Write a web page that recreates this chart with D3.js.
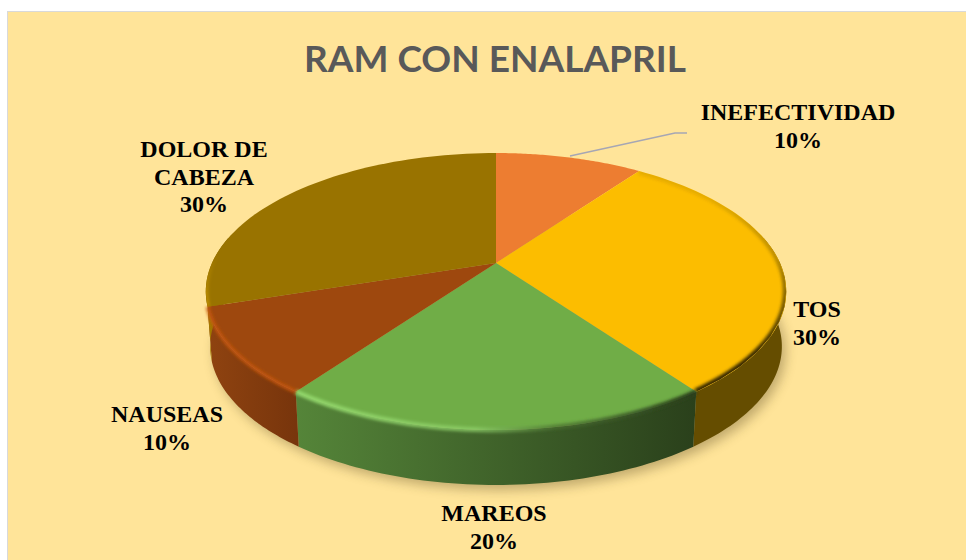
<!DOCTYPE html>
<html><head><meta charset="utf-8">
<script src="https://cdn.jsdelivr.net/npm/d3@7"></script>
<style>html,body{margin:0;padding:0;background:#fff}svg{display:block}</style></head>
<body><svg id="c" width="966" height="560"></svg>
<script>
const categories = ["INEFECTIVIDAD","TOS","MAREOS","NAUSEAS","DOLOR DE CABEZA"];
const values = [10,30,20,10,30];
const topColors = ["#ed7d31","#fcbd00","#70ad47","#9e480e","#997300"];
const sideFrom = ["#a0521f","#654d00","#558539","#8f4310","#a87e00"];
const sideTo = ["#a0521f","#654d00","#2a401b","#78350c","#8a6800"];
const labelLines = [["INEFECTIVIDAD","10%"],["TOS","30%"],["MAREOS","20%"],["NAUSEAS","10%"],["DOLOR DE","CABEZA","30%"]];
const labelAnchors = [[798,120],[817,317],[494,521],[167,422],[204,157]];
// rim bevel stops: [x1,y1,x2,y2,[[offset,colour,opacity],...],width,clipToFace]
const bevelSpecs = [
  null,
  [700,200,740,360,[[0,"#4a3800",.12],[.45,"#4a3800",.35],[1,"#3a2c00",1]],7,true],
  [300,0,690,0,[[0,"#93d86c",.95],[.45,"#8fd06a",.75],[.65,"#4a7030",.7],[1,"#2a401b",1]],5,false],
  [0,300,0,330,[[0,"#c9590f",.8],[1,"#c4560f",.9]],4,false],
  [0,255,0,300,[[0,"#c09000",0],[1,"#c09000",.9]],5,true]
];

const svg = d3.select("#c");
const defs = svg.append("defs");
const f = defs.append("filter").attr("id","blur").attr("x","-20%").attr("y","-20%").attr("width","140%").attr("height","140%");
f.append("feGaussianBlur").attr("stdDeviation",6);
const f2 = defs.append("filter").attr("id","bev").attr("filterUnits","userSpaceOnUse").attr("x",0).attr("y",0).attr("width",966).attr("height",560);
f2.append("feGaussianBlur").attr("stdDeviation",1.8);

// background
svg.append("rect").attr("x",7.5).attr("y",11.5).attr("width",970).attr("height",560)
  .attr("fill","#ffe499").attr("stroke","#d9d9d9");

// perspective projection of the unit circle
const CX=496, CY=263, A=284, B=132.6, K=0.2058, DEPTH=55, SHRINK=0.985;
const proj = a=>{const u=Math.sin(a),v=Math.cos(a),w=1+K*v;return [CX+A*u/w,CY-B*v/w];};
const low = a=>{const p=proj(a);return [CX+(p[0]-CX)*SHRINK,p[1]+DEPTH];};
const line = d3.line();
const samples=(a0,a1)=>d3.range(0,61).map(i=>a0+(a1-a0)*i/60);

const arcs = d3.pie().sort(null).value(d=>d)(values);
const faceOf = d=>line([[CX,CY],...samples(d.startAngle,d.endAngle).map(proj)])+"Z";
const fullRim = samples(0,2*Math.PI);

// shadow under pie
svg.append("path").attr("d",line(fullRim.map(a=>{const p=low(a);return [p[0]+4,p[1]+5];}))+"Z")
  .attr("fill","#5a4a20").attr("opacity",.38).attr("filter","url(#blur)");

// sides
const H0=Math.PI/2-0.2, H1=3*Math.PI/2+0.2;
arcs.forEach((d,i)=>{
  const s=Math.max(d.startAngle,H0), e=Math.min(d.endAngle,H1);
  if(e<=s) return;
  const pts=samples(s,e);
  const xs=pts.map(a=>proj(a)[0]);
  const gid="side"+i;
  const g=defs.append("linearGradient").attr("id",gid).attr("gradientUnits","userSpaceOnUse")
    .attr("x1",d3.min(xs)).attr("x2",d3.max(xs)).attr("y1",0).attr("y2",0);
  g.append("stop").attr("offset",0).attr("stop-color",sideFrom[i]);
  g.append("stop").attr("offset",1).attr("stop-color",sideTo[i]);
  svg.append("path").attr("d",line([...pts.map(proj),...pts.slice().reverse().map(low)])+"Z").attr("fill",`url(#${gid})`);
});

// clip regions
defs.append("clipPath").attr("id","faceClip").append("path").attr("d",line(fullRim.map(proj))+"Z");

// top faces
svg.selectAll("path.face").data(arcs).join("path").attr("class","face")
  .attr("d",faceOf).attr("fill",(d,i)=>topColors[i]);

// rim bevel
const rimClipped=svg.append("g").attr("clip-path","url(#faceClip)");
const rimFree=svg.append("g");
arcs.forEach((d,i)=>{
  const sp=bevelSpecs[i];
  if(!sp) return;
  const g=defs.append("linearGradient").attr("id","bev"+i).attr("gradientUnits","userSpaceOnUse")
    .attr("x1",sp[0]).attr("y1",sp[1]).attr("x2",sp[2]).attr("y2",sp[3]);
  sp[4].forEach(s=>g.append("stop").attr("offset",s[0]).attr("stop-color",s[1]).attr("stop-opacity",s[2]));
  (sp[6]?rimClipped:rimFree).append("path").attr("d",line(samples(d.startAngle,d.endAngle).map(proj)))
    .attr("fill","none").attr("stroke",`url(#bev${i})`).attr("stroke-width",sp[5]).attr("filter","url(#bev)");
});

// leader line
svg.append("path").attr("d",line([[570,156],[675,133],[687,133]])).attr("fill","none").attr("stroke","#a6a6b4").attr("stroke-width",1.3);

// title
svg.append("text").attr("x",495).attr("y",72).attr("text-anchor","middle")
  .attr("font-family","Lato,sans-serif").attr("font-weight",700).attr("font-size",37).attr("fill","#595959")
  .text("RAM CON ENALAPRIL");

// labels
labelLines.forEach((ls,i)=>{
  const t=svg.append("text").attr("text-anchor","middle").attr("font-family","'Liberation Serif',serif")
    .attr("font-weight",700).attr("font-size",24).attr("fill","#000");
  ls.forEach((s,j)=>t.append("tspan").attr("x",labelAnchors[i][0]).attr("y",labelAnchors[i][1]+j*27.5).text(s));
});
</script></body></html>
